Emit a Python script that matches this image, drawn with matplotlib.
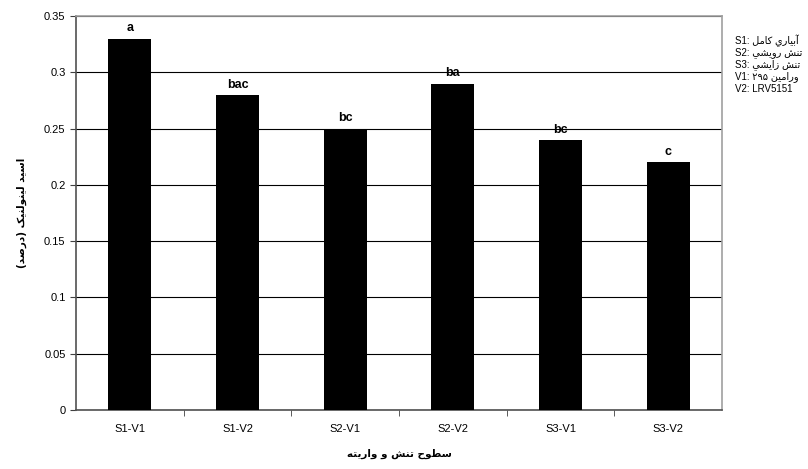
import matplotlib
matplotlib.use("Agg")
import matplotlib.pyplot as plt
from matplotlib.ticker import MultipleLocator, FixedLocator

categories = ["S1-V1", "S1-V2", "S2-V1", "S2-V2", "S3-V1", "S3-V2"]
values = [0.33, 0.28, 0.25, 0.29, 0.24, 0.22]
letters = ["a", "bac", "bc", "ba", "bc", "c"]

ylabel_text = "اسيد لينولنيک (درصد)"
xlabel_text = "سطوح تنش و واريته"
legend_codes = ["S1:", "S2:", "S3:", "V1:", "V2:"]
legend_names = ["آبياري كامل", "تنش رويشي", "تنش زايشي", "ورامين", "LRV5151"]
legend_nums = ["", "", "", "۲۹۵", ""]

# Minimal Arabic shaping (isolated, final, initial, medial)
F = {
    "ا": ("\uFE8D", "\uFE8E", None, None),
    "آ": ("\uFE81", "\uFE82", None, None),
    "ب": ("\uFE8F", "\uFE90", "\uFE91", "\uFE92"),
    "ت": ("\uFE95", "\uFE96", "\uFE97", "\uFE98"),
    "ح": ("\uFEA1", "\uFEA2", "\uFEA3", "\uFEA4"),
    "د": ("\uFEA9", "\uFEAA", None, None),
    "ر": ("\uFEAD", "\uFEAE", None, None),
    "ز": ("\uFEAF", "\uFEB0", None, None),
    "س": ("\uFEB1", "\uFEB2", "\uFEB3", "\uFEB4"),
    "ش": ("\uFEB5", "\uFEB6", "\uFEB7", "\uFEB8"),
    "ص": ("\uFEB9", "\uFEBA", "\uFEBB", "\uFEBC"),
    "ط": ("\uFEC1", "\uFEC2", "\uFEC3", "\uFEC4"),
    "ك": ("\uFED9", "\uFEDA", "\uFEDB", "\uFEDC"),
    "ک": ("\uFB8E", "\uFB8F", "\uFB90", "\uFB91"),
    "ل": ("\uFEDD", "\uFEDE", "\uFEDF", "\uFEE0"),
    "م": ("\uFEE1", "\uFEE2", "\uFEE3", "\uFEE4"),
    "ن": ("\uFEE5", "\uFEE6", "\uFEE7", "\uFEE8"),
    "ه": ("\uFEE9", "\uFEEA", "\uFEEB", "\uFEEC"),
    "و": ("\uFEED", "\uFEEE", None, None),
    "ي": ("\uFEF1", "\uFEF2", "\uFEF3", "\uFEF4"),
}


def is_arabic(s):
    return any(c in F for c in s)


def shape(s):
    if not is_arabic(s):
        return s
    out = []
    for i, c in enumerate(s):
        if c not in F:
            out.append(c)
            continue
        prev = s[i - 1] if i > 0 else None
        nxt = s[i + 1] if i + 1 < len(s) else None
        jp = prev in F and F[prev][2] is not None
        jn = F[c][2] is not None and nxt in F
        f = F[c]
        if jp and jn:
            out.append(f[3])
        elif jp:
            out.append(f[1])
        elif jn:
            out.append(f[2])
        else:
            out.append(f[0])
    vis = "".join(out)[::-1]
    return vis.translate(str.maketrans("()", ")("))


plt.rcParams["font.family"] = ["Liberation Sans", "DejaVu Sans"]
AR = ["DejaVu Sans"]

fig = plt.figure(figsize=(8.08, 4.69), dpi=100)
ax = fig.add_axes([76 / 808, 1 - 410 / 469, (722 - 76) / 808, (410 - 16) / 469])

x = list(range(len(categories)))
ax.bar(x, values, width=0.4, color="black", zorder=3)
for xi, v, l in zip(x, values, letters):
    ax.annotate(l, (xi, v), xytext=(0, 3), textcoords="offset points",
                ha="center", va="bottom", fontsize=9, fontweight="bold")

ax.set_xlim(-0.5, len(categories) - 0.5)
ax.set_ylim(0, 0.35)
ax.yaxis.set_major_locator(MultipleLocator(0.05))
ax.yaxis.set_major_formatter(matplotlib.ticker.FuncFormatter(
    lambda v, p: "0" if abs(v) < 1e-9 else ("%.2f" % v).rstrip("0")))
ax.grid(axis="y", color="black", linewidth=0.8, zorder=0)
ax.set_axisbelow(True)

ax.set_xticks(x)
ax.set_xticklabels(categories, fontsize=8)
ax.xaxis.set_minor_locator(FixedLocator([i + 0.5 for i in x[:-1]]))
ax.tick_params(axis="x", which="major", length=0, pad=10)
ax.tick_params(axis="x", which="minor", length=4, direction="out", color="#404040")
ax.tick_params(axis="y", labelsize=8, length=4, direction="out", color="#404040")

for side in ["top", "right"]:
    ax.spines[side].set_color("#a0a0a0")
for side in ["left", "bottom"]:
    ax.spines[side].set_color("#505050")
for sp in ax.spines.values():
    sp.set_linewidth(1.2)

ax.set_ylabel(shape(ylabel_text), family=AR, fontsize=7.5, fontweight="bold", labelpad=12)
ax.set_xlabel(shape(xlabel_text), family=AR, fontsize=7.5, fontweight="bold", labelpad=11)

y0 = 41
for i, (code, name, num) in enumerate(zip(legend_codes, legend_names, legend_nums)):
    txt = code + " " + ((num + " ") if num else "") + shape(name)
    fig.text(735 / 808, 1 - (y0 + 12 * i) / 469, txt, family=["Liberation Sans", "DejaVu Sans"],
             fontsize=7, va="center", ha="left")

fig.savefig("out.png", dpi=100)
